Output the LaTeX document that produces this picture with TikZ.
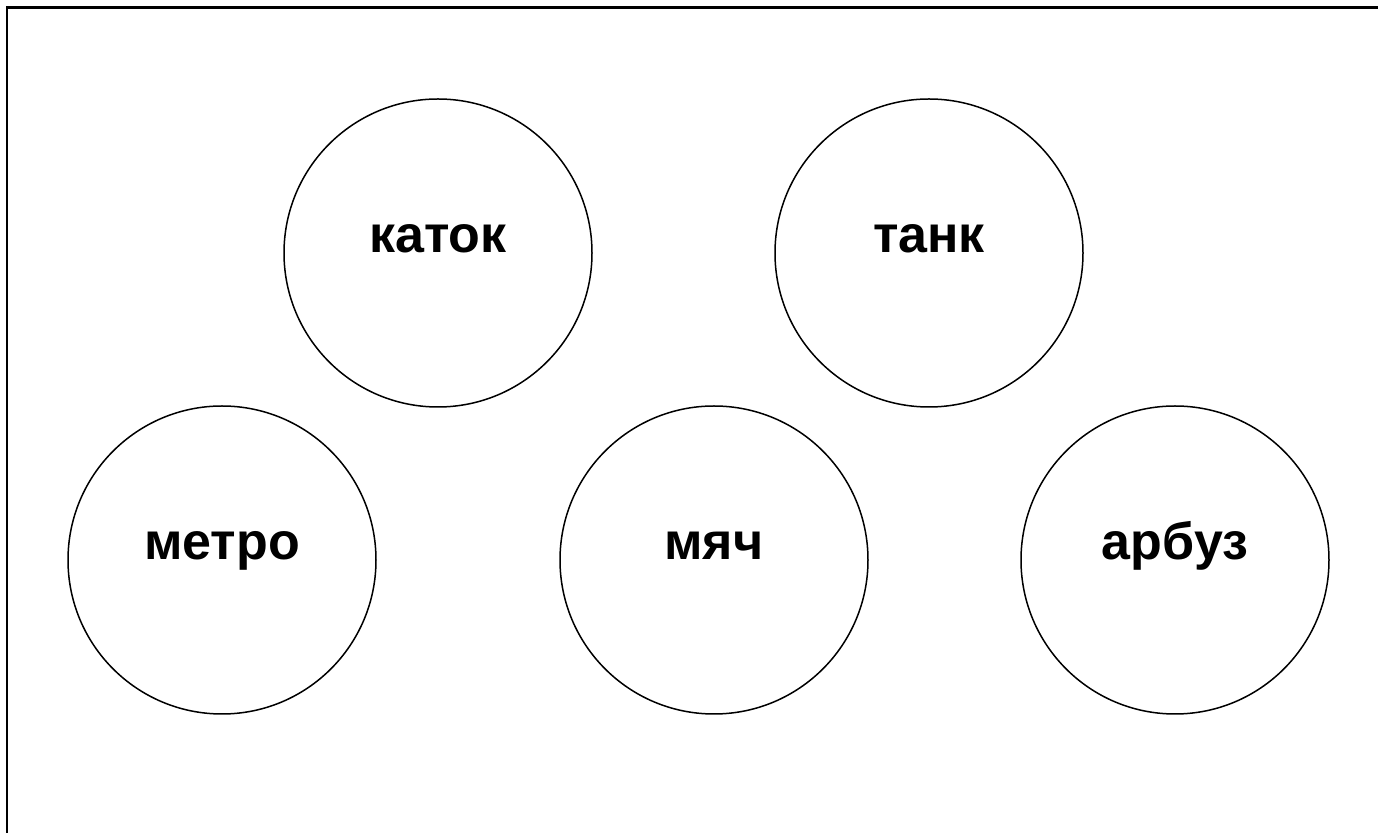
\documentclass[tikz,border=0pt]{standalone}
\usepackage{fontspec}
\setmainfont{Liberation Sans}
\begin{document}
\begin{tikzpicture}[x=0.5pt,y=-0.5pt,
  word/.style={circle,draw=black,line width=0.75pt,minimum size=154pt,inner sep=0pt},
  lbl/.style={anchor=base,font=\fontsize{26}{30}\selectfont\bfseries,inner sep=0pt}]
\useasboundingbox (0,0) rectangle (1378,833);
\draw[line width=1.3pt] (7,833) -- (7,7.5) -- (1378,7.5);
\node[word] (c1) at (438,253) {};
\node[word] (c2) at (929,253) {};
\node[word] (c3) at (222,560) {};
\node[word] (c4) at (714,560) {};
\node[word] (c5) at (1175,560) {};
\node[lbl] (t1) at (c1.center) {каток};
\node[lbl] (t2) at (c2.center) {танк};
\node[lbl] (t3) at (c3.center) {метро};
\node[lbl] (t4) at (c4.center) {мяч};
\node[lbl] (t5) at (c5.center) {арбуз};
\end{tikzpicture}
\end{document}
